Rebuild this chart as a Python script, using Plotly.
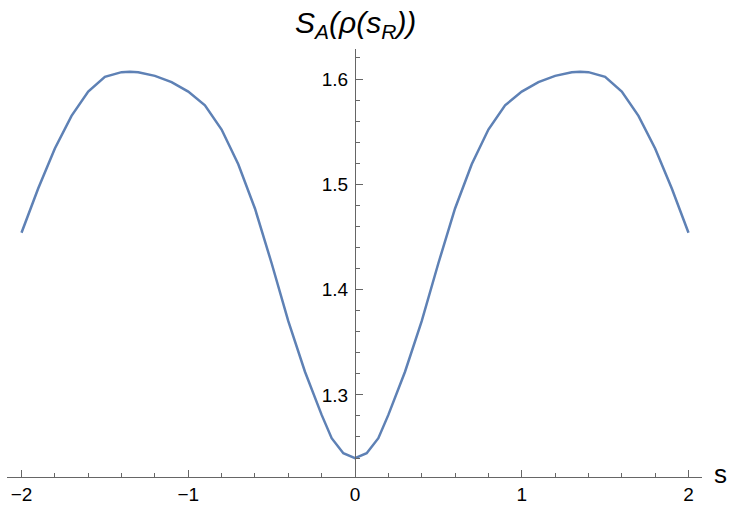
import plotly.graph_objects as go

# curve values
s_vals = [-2.0, -1.9, -1.8, -1.7, -1.6, -1.5, -1.4, -1.35, -1.3, -1.2, -1.1, -1.0,
          -0.9, -0.8, -0.7, -0.6, -0.5, -0.4, -0.3, -0.2, -0.14, -0.07, 0.0,
          0.07, 0.14, 0.2, 0.3, 0.4, 0.5, 0.6, 0.7, 0.8, 0.9, 1.0, 1.1, 1.2,
          1.3, 1.35, 1.4, 1.5, 1.6, 1.7, 1.8, 1.9, 2.0]
entropy = [1.454, 1.496, 1.534, 1.565, 1.588, 1.602, 1.6065, 1.607, 1.6065, 1.603,
           1.597, 1.588, 1.575, 1.552, 1.519, 1.477, 1.425, 1.370, 1.322, 1.281,
           1.2589, 1.2446, 1.240, 1.2446, 1.2589, 1.281, 1.322, 1.370, 1.425,
           1.477, 1.519, 1.552, 1.575, 1.588, 1.597, 1.603, 1.6065, 1.607,
           1.6065, 1.602, 1.588, 1.565, 1.534, 1.496, 1.454]

x_ticks = [-2, -1, 0, 1, 2]
x_labels = ["\u22122", "\u22121", "0", "1", "2"]
y_ticks = [1.3, 1.4, 1.5, 1.6]
y_labels = ["1.3", "1.4", "1.5", "1.6"]

axis_col = "#666666"
font = dict(family="Liberation Sans, Arial, sans-serif", size=19, color="black")

fig = go.Figure()
fig.add_trace(go.Scatter(x=s_vals, y=entropy, mode="lines",
                         line=dict(color="#5E81B5", width=2.5),
                         showlegend=False))

x_range = [-2.087, 2.081]
fig.update_xaxes(
    range=x_range, showgrid=False, zeroline=False, automargin=False,
    showline=True, linecolor=axis_col, linewidth=1.3,
    tickvals=x_ticks, ticktext=x_labels, ticks="inside",
    ticklen=7, tickcolor=axis_col, tickwidth=1.2, tickfont=font,
    minor=dict(dtick=0.2, tick0=0, ticks="inside", ticklen=4,
               tickcolor=axis_col, showgrid=False),
)
fig.update_yaxes(
    range=[1.222, 1.6285], showgrid=False, zeroline=False, automargin=False,
    anchor="free", position=(0 - x_range[0]) / (x_range[1] - x_range[0]),
    showline=True, linecolor=axis_col, linewidth=1.3,
    tickvals=y_ticks, ticktext=y_labels, ticks="inside", ticklabelstandoff=3,
    ticklen=7, tickcolor=axis_col, tickwidth=1.2, tickfont=font,
    minor=dict(dtick=0.02, tick0=1.2, ticks="inside", ticklen=4,
               tickcolor=axis_col, showgrid=False),
)

fig.add_annotation(x=0, y=1.0, xref="x", yref="paper", yanchor="bottom",
                   yshift=4, showarrow=False,
                   text="<i>S<sub>A</sub>(\u03c1(s<sub>R</sub>))</i>",
                   font=dict(family="Liberation Sans, Arial, sans-serif",
                             size=30, color="black"))
fig.add_annotation(x=1.0, y=0, xref="paper", yref="paper", xanchor="left",
                   xshift=10, yshift=-14, showarrow=False, text="s",
                   font=dict(family="Liberation Sans, Arial, sans-serif",
                             size=26, color="black"))

fig.update_layout(width=741, height=512, plot_bgcolor="white",
                  paper_bgcolor="white",
                  margin=dict(l=7, r=39, t=49, b=35, autoexpand=False))

# drop the default page margin so the figure sits at the window corner
fig.write_html("out.html", config={"displayModeBar": False},
               post_script="document.body.style.margin = '0';")
